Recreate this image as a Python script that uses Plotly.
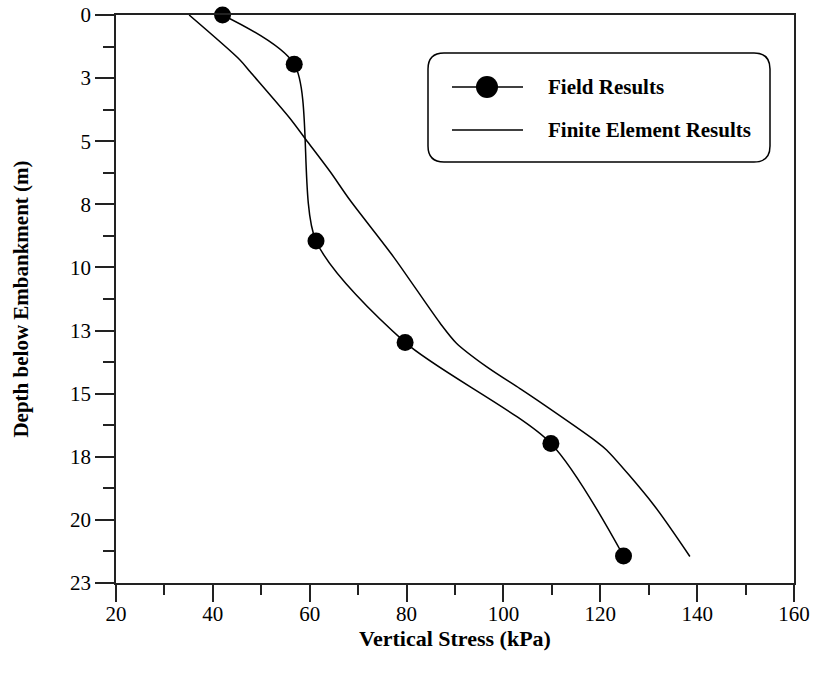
import plotly.graph_objects as go

# Field results (vertical stress kPa, depth m)
field_stress = [42, 56.8, 61.3, 79.7, 109.8, 124.8]
field_depth = [0, 1.95, 8.95, 12.97, 16.97, 21.43]

# Finite element results
fe_stress = [35.1, 45.6, 47.7, 55.9, 59.2, 64.2, 68.3, 77.3, 86.9, 90.3, 96.5,
             103.4, 106.9, 119.2, 121.3, 131.0, 138.5]
fe_depth = [0, 1.78, 2.25, 4.09, 4.93, 6.2, 7.33, 9.58, 12.2, 13.0, 13.93,
            14.8, 15.25, 16.9, 17.23, 19.4, 21.45]

y_tickvals = [0, 2.5, 5, 7.5, 10, 12.5, 15, 17.5, 20, 22.5]
y_ticktext = ["0", "3", "5", "8", "10", "13", "15", "18", "20", "23"]
x_tickvals = [20, 40, 60, 80, 100, 120, 140, 160]

legend_labels = ["Field Results", "Finite Element Results"]

FONT = "Liberation Serif"
W, H = 814, 677
L, R, T, B = 116, 20, 15, 94
PW, PH = W - L - R, H - T - B


def px(x):
    return (x - L) / PW


def py(y):
    return (H - B - y) / PH


fig = go.Figure()
fig.add_trace(go.Scatter(x=fe_stress, y=fe_depth, mode="lines",
                         line=dict(color="black", width=1.5, shape="spline", smoothing=0.8),
                         showlegend=False, cliponaxis=False))
fig.add_trace(go.Scatter(x=field_stress, y=field_depth, mode="lines+markers",
                         line=dict(color="black", width=1.5, shape="spline", smoothing=0.75),
                         marker=dict(size=17, color="black"),
                         showlegend=False, cliponaxis=False))

# custom rounded legend box
x0, x1, y0, y1 = px(428), px(770), py(162), py(53)
rx, ry = 16 / PW, 16 / PH
path = (f"M {x0+rx},{y1} L {x1-rx},{y1} Q {x1},{y1} {x1},{y1-ry} "
        f"L {x1},{y0+ry} Q {x1},{y0} {x1-rx},{y0} L {x0+rx},{y0} "
        f"Q {x0},{y0} {x0},{y0+ry} L {x0},{y1-ry} Q {x0},{y1} {x0+rx},{y1} Z")
shapes = [dict(type="path", path=path, xref="paper", yref="paper",
               line=dict(color="black", width=1.5), fillcolor="white")]
for yy in (87, 130):
    shapes.append(dict(type="line", xref="paper", yref="paper",
                       x0=px(452), x1=px(523), y0=py(yy), y1=py(yy),
                       line=dict(color="black", width=1.5)))
r = 11
shapes.append(dict(type="circle", xref="paper", yref="paper",
                   x0=px(487 - r), x1=px(487 + r), y0=py(87 + r), y1=py(87 - r),
                   fillcolor="black", line=dict(color="black", width=0)))
annotations = []
for lab, yy in zip(legend_labels, (87, 130)):
    annotations.append(dict(text=f"<b>{lab}</b>", xref="paper", yref="paper",
                            x=px(546), y=py(yy), xanchor="left", yanchor="middle",
                            showarrow=False, font=dict(family=FONT, size=21, color="black")))

fig.update_layout(
    width=W, height=H, margin=dict(l=L, r=R, t=T, b=B, autoexpand=False),
    paper_bgcolor="white", plot_bgcolor="white",
    shapes=shapes, annotations=annotations,
    font=dict(family=FONT, size=21, color="black"),
    xaxis=dict(range=[20, 160], tickvals=x_tickvals, ticks="outside", ticklen=17,
               tickwidth=1.5, tickcolor="#222", showline=True, linecolor="#222",
               linewidth=1.5, mirror=True, showgrid=False, zeroline=False,
               automargin=False, ticklabelstandoff=-6,
               minor=dict(dtick=10, tick0=0, ticks="outside", ticklen=10,
                          tickwidth=1.5, tickcolor="#222", showgrid=False),
               title=dict(text="<b>Vertical Stress (kPa)</b>", standoff=0,
                          font=dict(family=FONT, size=22)),
               tickfont=dict(family=FONT, size=21)),
    yaxis=dict(range=[22.5, 0], tickvals=y_tickvals, ticktext=y_ticktext,
               ticks="outside", ticklen=19, tickwidth=1.5, tickcolor="#222",
               showline=True, linecolor="#222", linewidth=1.5, mirror=True,
               showgrid=False, zeroline=False, automargin=False,
               minor=dict(dtick=1.25, tick0=0, ticks="outside", ticklen=11,
                          tickwidth=1.5, tickcolor="#222", showgrid=False),
               title=dict(text="<b>Depth below Embankment (m)</b>", standoff=36,
                          font=dict(family=FONT, size=21)),
               tickfont=dict(family=FONT, size=21)),
)

fig.write_html("out.html")
